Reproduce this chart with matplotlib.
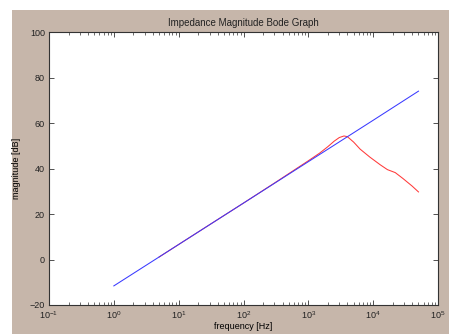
import matplotlib
matplotlib.use("Agg")
import matplotlib.pyplot as plt
import matplotlib.patches as patches
from matplotlib.ticker import LogLocator, NullFormatter

# model (blue) and measured (red) impedance magnitude
freq_model = [1, 10, 100, 1000, 10000, 50000]
mag_model = [-11.6, 6.6, 24.8, 43.0, 61.2, 74.0]

freq_meas = [5, 10, 30, 100, 300, 1000, 1500, 2000, 2500, 3000, 3550, 4000,
             5000, 6300, 8900, 12900, 16600, 21900, 28800, 39800, 50000]
mag_meas = [1.1, 6.6, 15.3, 24.8, 33.6, 43.4, 46.8, 49.6, 52.0, 53.6, 54.3, 54.0,
            51.6, 48.5, 45.0, 41.6, 39.5, 38.2, 35.6, 32.3, 29.7]

yticks = [-20, 0, 20, 40, 60, 80, 100]

plt.rcParams['font.family'] = ['Liberation Sans', 'DejaVu Sans']
plt.rcParams['text.color'] = '#222222'
plt.rcParams['xtick.labelcolor'] = '#222222'
plt.rcParams['ytick.labelcolor'] = '#222222'

fig = plt.figure(figsize=(4.49, 3.34), dpi=100, facecolor='white')
# tan panel with a thin white margin at top and left
fig.patches.append(patches.Rectangle((12 / 449, 0), 1, 1 - 10 / 334,
                                     transform=fig.transFigure,
                                     facecolor='#c6b6aa', edgecolor='none', zorder=-1))

ax = fig.add_axes([49 / 449, 29 / 334, 389 / 449, 273 / 334])
ax.set_facecolor('white')

ax.semilogx(freq_meas, mag_meas, color='#ff3a3a', lw=0.75)
ax.semilogx(freq_model, mag_model, color='#3a3aff', lw=0.75)

ax.set_xlim(1e-1, 1e5)
ax.set_ylim(-20, 100)
ax.set_yticks(yticks)
ax.xaxis.set_major_locator(LogLocator(base=10, numticks=10))
ax.xaxis.set_minor_locator(LogLocator(base=10, subs=range(2, 10), numticks=20))
ax.xaxis.set_minor_formatter(NullFormatter())

ax.tick_params(which='both', direction='in', top=True, right=True,
               labelsize=6.5, color='#333333', pad=3)
ax.tick_params(which='major', length=3.5, width=0.6)
ax.tick_params(which='minor', length=2, width=0.5)
for s in ax.spines.values():
    s.set_color('#333333')
    s.set_linewidth(0.8)

ax.set_title('Impedance Magnitude Bode Graph', fontsize=7, pad=4)
ax.set_xlabel('frequency [Hz]', fontsize=6.5, labelpad=1)
ax.set_ylabel('magnitude [dB]', fontsize=6.5, labelpad=6)

fig.savefig('out.png', dpi=100, facecolor=fig.get_facecolor())
